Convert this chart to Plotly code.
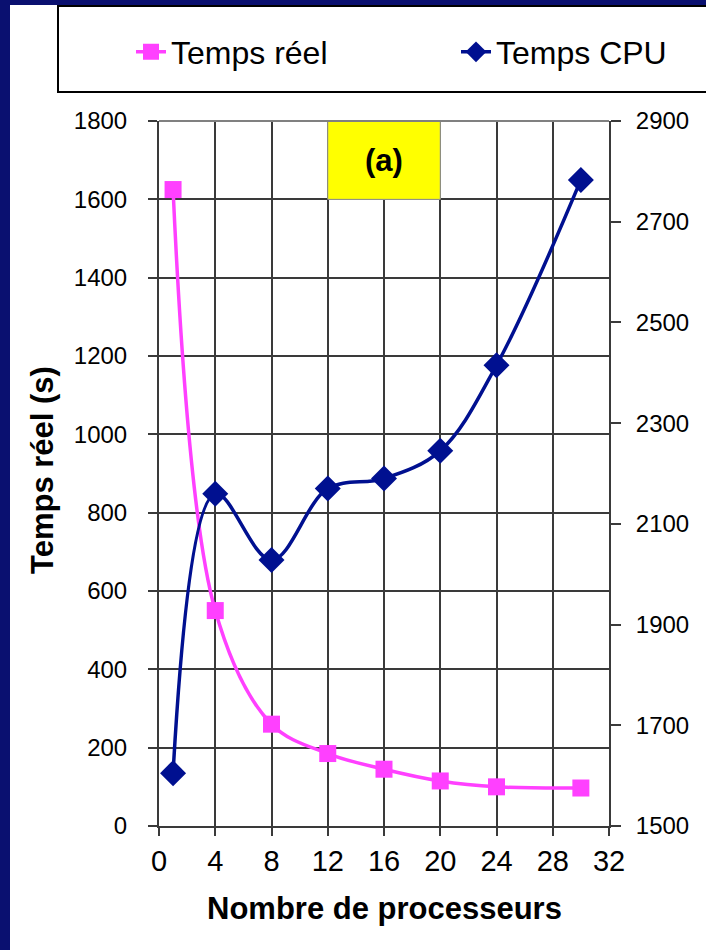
import plotly.graph_objects as go

# ---- data ----
procs = [1, 4, 8, 12, 16, 20, 24, 30]
temps_reel = [1625, 550, 260, 185, 145, 115, 100, 97]
temps_cpu = [1605, 2160, 2028, 2170, 2190, 2245, 2415, 2783]
x_ticks = [0, 4, 8, 12, 16, 20, 24, 28, 32]
y_left_ticks = [0, 200, 400, 600, 800, 1000, 1200, 1400, 1600, 1800]
y_right_ticks = [1500, 1700, 1900, 2100, 2300, 2500, 2700, 2900]

W, H = 706, 950
L, R, T, B = 159, 609, 121, 826
FONT = "Liberation Sans, Arial, sans-serif"
PINK = "#FF40FF"
NAVY = "#001090"
GRID = "#3a3a3a"


def px(xp):
    return (xp - L) / (R - L)


def py(yp):
    return (B - yp) / (B - T)


fig = go.Figure()
fig.add_trace(go.Scatter(
    x=procs, y=temps_reel, name="Temps réel", mode="lines+markers",
    line=dict(color=PINK, width=3.5, shape="spline", smoothing=1.0),
    marker=dict(symbol="square", size=17, color=PINK),
    yaxis="y", legend="legend",
))
fig.add_trace(go.Scatter(
    x=procs, y=temps_cpu, name="Temps CPU", mode="lines+markers",
    line=dict(color=NAVY, width=3.5, shape="spline", smoothing=1.0),
    marker=dict(symbol="diamond", size=20, color=NAVY),
    yaxis="y2", legend="legend2",
))

shapes = [
    # navy frame
    dict(type="rect", xref="paper", yref="paper", x0=px(0), x1=px(10), y0=py(H), y1=py(0),
         fillcolor="#0A1070", line=dict(width=0), layer="below"),
    dict(type="rect", xref="paper", yref="paper", x0=px(0), x1=px(W), y0=py(5), y1=py(0),
         fillcolor="#0A1070", line=dict(width=0), layer="below"),
    # legend box
    dict(type="rect", xref="paper", yref="paper", x0=px(58), x1=px(W + 10), y0=py(92), y1=py(6),
         fillcolor="white", line=dict(color="black", width=2), layer="below"),
    # yellow label box (over the grid)
    dict(type="rect", xref="x", yref="y", x0=12, x1=20, y0=1600, y1=1800,
         fillcolor="#FFFF00", line=dict(color="#9a9a9a", width=1), layer="between"),
    # top border of plot area
    dict(type="line", xref="paper", yref="paper", x0=0, x1=1, y0=1, y1=1,
         line=dict(color="#808080", width=2)),
]

annotations = [
    dict(x=16, y=1700, xref="x", yref="y", text="<b>(a)</b>", showarrow=False,
         font=dict(family=FONT, size=31, color="black")),
    dict(x=px(384), y=py(908), xref="paper", yref="paper", text="<b>Nombre de processeurs</b>",
         showarrow=False, xanchor="center", yanchor="middle",
         font=dict(family=FONT, size=31, color="black")),
    dict(x=px(42), y=py(470), xref="paper", yref="paper", text="<b>Temps réel (s)</b>",
         showarrow=False, xanchor="center", yanchor="middle", textangle=-90,
         font=dict(family=FONT, size=31, color="black")),
]

leg_common = dict(orientation="h", xanchor="left", yanchor="middle",
                  bgcolor="rgba(0,0,0,0)", borderwidth=0,
                  font=dict(family=FONT, size=32, color="black"))

fig.update_layout(
    width=W, height=H,
    margin=dict(l=L, r=W - R, t=T, b=H - B, autoexpand=False),
    paper_bgcolor="white", plot_bgcolor="white",
    font=dict(family=FONT, color="black"),
    showlegend=True,
    legend=dict(x=px(131), y=py(52), **leg_common),
    legend2=dict(x=px(456), y=py(52), **leg_common),
    xaxis=dict(range=[0, 32], tickvals=x_ticks, ticktext=[str(v) for v in x_ticks],
               showgrid=True, gridcolor=GRID, gridwidth=1.5,
               showline=True, linecolor=GRID, linewidth=2,
               ticks="outside", ticklen=8, tickcolor=GRID, tickwidth=1.5,
               tickfont=dict(family=FONT, size=29, color="black"),
               zeroline=False, fixedrange=True),
    yaxis=dict(range=[0, 1800], tickvals=y_left_ticks,
               showgrid=True, gridcolor=GRID, gridwidth=1.5,
               showline=True, linecolor=GRID, linewidth=2,
               ticks="outside", ticklen=9, tickcolor=GRID, tickwidth=1.5,
               ticklabelstandoff=16,
               tickfont=dict(family=FONT, size=24, color="black"),
               zeroline=False, fixedrange=True),
    yaxis2=dict(range=[1500, 2900], tickvals=y_right_ticks, overlaying="y", side="right",
                showgrid=False, showline=True, linecolor=GRID, linewidth=2,
                ticks="outside", ticklen=10, tickcolor=GRID, tickwidth=1.5,
                ticklabelstandoff=10,
                tickfont=dict(family=FONT, size=24, color="black"),
                zeroline=False, fixedrange=True),
    shapes=shapes,
    annotations=annotations,
)

fig.write_html("out.html")
